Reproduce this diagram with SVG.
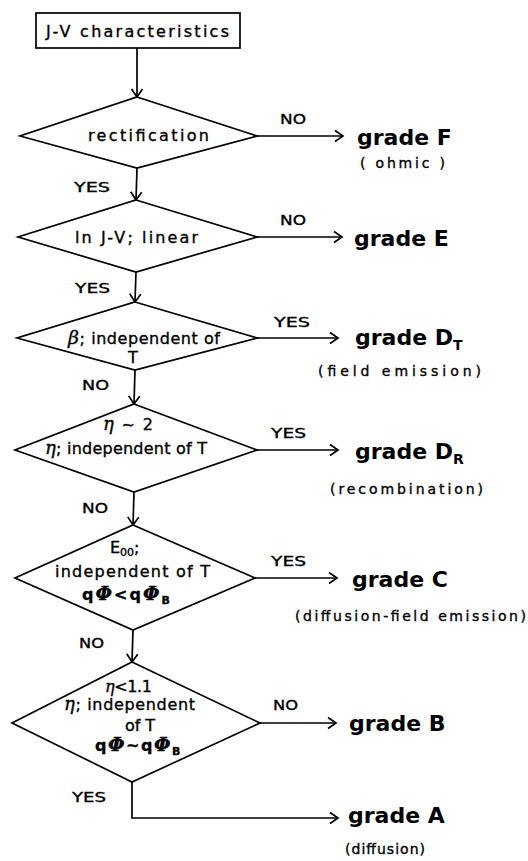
<svg xmlns="http://www.w3.org/2000/svg" width="528" height="861" viewBox="0 0 528 861">
<style>
.s{fill:none;stroke:#000;stroke-width:1.7}
.d{fill:#fff;stroke:#000;stroke-width:1.7}
.t{font-family:"DejaVu Sans","Liberation Sans",sans-serif;font-size:16px;fill:#000;stroke:#000;stroke-width:0.35}
.l{font-family:"DejaVu Sans","Liberation Sans",sans-serif;font-size:14px;fill:#000;stroke:#000;stroke-width:0.35}
.g{font-family:"DejaVu Sans","Liberation Sans",sans-serif;font-size:22px;font-weight:bold;fill:#000}
.c{text-anchor:middle}
.gr{font-family:"DejaVu Serif","Liberation Serif",serif;font-style:italic}
</style>
<defs>
<marker id="a" markerWidth="14" markerHeight="14" refX="12" refY="7" orient="auto" markerUnits="userSpaceOnUse">
<path d="M4,1.5 L12,7 L4,12.5" fill="none" stroke="#000" stroke-width="1.7"/>
</marker>
</defs>
<g id="connectors">
<line class="s" x1="137" y1="48" x2="137" y2="97" marker-end="url(#a)"/>
<line class="s" x1="137" y1="168" x2="136" y2="200" marker-end="url(#a)"/>
<line class="s" x1="136" y1="272" x2="135" y2="302" marker-end="url(#a)"/>
<line class="s" x1="135" y1="370" x2="134" y2="404" marker-end="url(#a)"/>
<line class="s" x1="134" y1="492" x2="133" y2="525" marker-end="url(#a)"/>
<line class="s" x1="133" y1="630" x2="132" y2="662" marker-end="url(#a)"/>
<line class="s" x1="257" y1="136" x2="343" y2="136" marker-end="url(#a)"/>
<line class="s" x1="257" y1="237" x2="342" y2="237" marker-end="url(#a)"/>
<line class="s" x1="257" y1="338" x2="338" y2="338" marker-end="url(#a)"/>
<line class="s" x1="257" y1="450" x2="338" y2="450" marker-end="url(#a)"/>
<line class="s" x1="255" y1="578" x2="337" y2="578" marker-end="url(#a)"/>
<line class="s" x1="260" y1="723" x2="336" y2="723" marker-end="url(#a)"/>
<polyline class="s" points="132,782 132,818 338,818" marker-end="url(#a)"/>
<text class="l" x="280" y="124" textLength="26" lengthAdjust="spacingAndGlyphs">NO</text>
<text class="l" x="280" y="225" textLength="26" lengthAdjust="spacingAndGlyphs">NO</text>
<text class="l" x="274" y="327" textLength="36" lengthAdjust="spacingAndGlyphs">YES</text>
<text class="l" x="271" y="438" textLength="35" lengthAdjust="spacingAndGlyphs">YES</text>
<text class="l" x="271" y="566" textLength="35" lengthAdjust="spacingAndGlyphs">YES</text>
<text class="l" x="273" y="710" textLength="25" lengthAdjust="spacingAndGlyphs">NO</text>
<text class="l" x="74" y="192" textLength="36" lengthAdjust="spacingAndGlyphs">YES</text>
<text class="l" x="75" y="293" textLength="35" lengthAdjust="spacingAndGlyphs">YES</text>
<text class="l" x="82" y="390" textLength="27" lengthAdjust="spacingAndGlyphs">NO</text>
<text class="l" x="82" y="513" textLength="26" lengthAdjust="spacingAndGlyphs">NO</text>
<text class="l" x="79" y="648" textLength="25" lengthAdjust="spacingAndGlyphs">NO</text>
<text class="l" x="72" y="802" textLength="34" lengthAdjust="spacingAndGlyphs">YES</text>
</g>
<g id="start">
<rect class="d" x="36" y="13" width="204" height="35"/>
<text class="t" x="46" y="37" textLength="183" lengthAdjust="spacing">J-V characteristics</text>
</g>
<g id="rectification">
<polygon class="d" points="137,97 257,136 137,168 20,136"/>
<text class="t" x="88" y="141" textLength="121" lengthAdjust="spacing">rectification</text>
</g>
<g id="linear">
<polygon class="d" points="136,200 257,237 136,272 18,237"/>
<text class="t" x="75" y="243" textLength="123" lengthAdjust="spacing">ln J-V; linear</text>
</g>
<g id="beta">
<polygon class="d" points="135,302 257,338 135,370 17,338"/>
<text class="t" x="68" y="344" textLength="152" lengthAdjust="spacing"><tspan class="gr" font-size="19">β</tspan>; independent of</text>
<text class="t c" x="133" y="363">T</text>
</g>
<g id="eta2">
<polygon class="d" points="134,404 257,450 134,492 15,450"/>
<text class="t" x="103" y="430" textLength="50" lengthAdjust="spacing"><tspan class="gr" font-size="18">η</tspan> ~ 2</text>
<text class="t" x="45" y="454" textLength="162" lengthAdjust="spacing"><tspan class="gr" font-size="18">η</tspan>; independent of T</text>
</g>
<g id="e00">
<polygon class="d" points="133,525 255,578 133,630 15,578"/>
<text class="t" x="110" y="553">E<tspan font-size="11" dy="3">00</tspan><tspan dy="-3">;</tspan></text>
<text class="t" x="55" y="577" textLength="155" lengthAdjust="spacing">independent of T</text>
<text class="t" x="82" y="600" font-weight="bold" letter-spacing="2">q<tspan class="gr" font-size="19">Φ</tspan>&lt;q<tspan class="gr" font-size="19">Φ</tspan><tspan font-size="11" dy="4">B</tspan></text>
</g>
<g id="eta11">
<polygon class="d" points="132,662 260,723 132,782 12,723"/>
<text class="t" x="105" y="692" textLength="47" lengthAdjust="spacing"><tspan class="gr" font-size="16">η</tspan>&lt;1.1</text>
<text class="t" x="64" y="710" textLength="131" lengthAdjust="spacing"><tspan class="gr" font-size="18">η</tspan>; independent</text>
<text class="t" x="125" y="731" font-size="15" textLength="30" lengthAdjust="spacing">of T</text>
<text class="t" x="95" y="751" font-weight="bold" letter-spacing="1.5">q<tspan class="gr" font-size="19">Φ</tspan>~q<tspan class="gr" font-size="19">Φ</tspan><tspan font-size="11" dy="4">B</tspan></text>
</g>
<g id="gradeF">
<text class="g" x="357" y="145">grade F</text>
<text class="l" x="360" y="168" textLength="85" lengthAdjust="spacing">( ohmic )</text>
</g>
<g id="gradeE">
<text class="g" x="354" y="246">grade E</text>
</g>
<g id="gradeDT">
<text class="g" x="355" y="345">grade D<tspan font-size="14" dy="5">T</tspan></text>
<text class="l" x="318" y="376" textLength="163" lengthAdjust="spacing">(field  emission)</text>
</g>
<g id="gradeDR">
<text class="g" x="355" y="459">grade D<tspan font-size="14" dy="5">R</tspan></text>
<text class="l" x="330" y="494" textLength="153" lengthAdjust="spacing">(recombination)</text>
</g>
<g id="gradeC">
<text class="g" x="352" y="587">grade C</text>
<text class="l" x="295" y="621" textLength="231" lengthAdjust="spacing">(diffusion-field emission)</text>
</g>
<g id="gradeB">
<text class="g" x="349" y="731">grade B</text>
</g>
<g id="gradeA">
<text class="g" x="348" y="823">grade A</text>
<text class="l" x="345" y="854" textLength="80" lengthAdjust="spacing">(diffusion)</text>
</g>
</svg>
